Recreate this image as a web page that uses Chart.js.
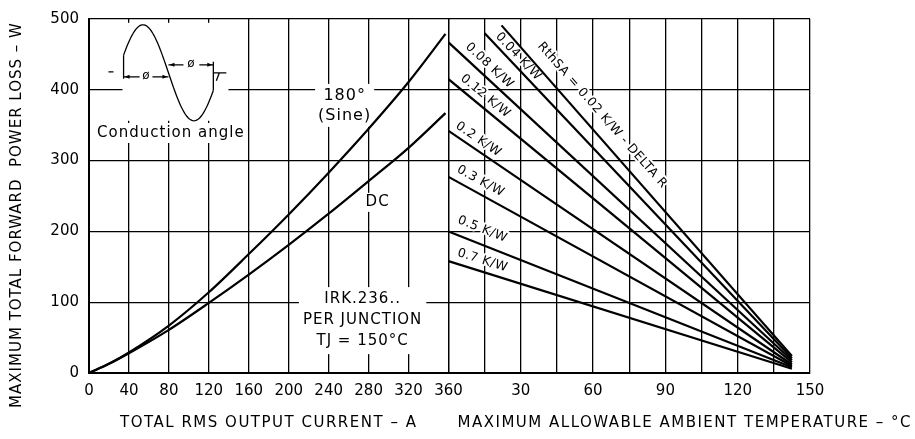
<!DOCTYPE html>
<html lang="en">
<head>
  <meta charset="UTF-8" />
  <title>Maximum forward power loss</title>
  <script src="https://cdn.jsdelivr.net/npm/chart.js"></script>
  <style>
    html, body { margin: 0; padding: 0; background: #fff; }
  </style>
</head>
<body>
<canvas id="lossChart" width="915" height="439"></canvas>
<script>
  // left half: loss against total RMS output current
  const currentA = [0, 20, 40, 80, 120, 160, 200, 240, 280, 320, 357];
  const sineLossW = [0, 13, 29, 67, 114, 168, 224, 283, 345, 411, 479];
  const dcLossW = [0, 13, 28, 61, 99, 139, 181, 225, 271, 318, 367];

  // right half: one straight derating line per heatsink resistance
  const rthNames = ["RthSA = 0.02 K/W - DELTA R", "0.04 K/W", "0.08 K/W", "0.12 K/W",
                    "0.2 K/W", "0.3 K/W", "0.5 K/W", "0.7 K/W"];
  const rthStartTemp = [22, 15, 0, 0, 0, 0, 0, 0];
  const rthStartLoss = [491, 480, 467, 415, 342, 277, 200, 158];
  const rthEndTemp = [142.5, 142.5, 142.5, 142.5, 142.5, 142.5, 142.5, 142.5];
  const rthEndLoss = [24, 21, 18, 15, 12, 10, 8, 6];

  // axis ticks
  const currentTicks = [0, 40, 80, 120, 160, 200, 240, 280, 320, 360];
  const tempTicks = [0, 15, 30, 45, 60, 75, 90, 105, 120, 135, 150];
  const tempTickLabels = ["", "", "30", "", "60", "", "90", "", "120", "", "150"];
  const lossTicks = [0, 100, 200, 300, 400, 500];

  // where the resistance names sit (temperature, loss) - label centres
  const rthLabelSpots = [[63.8, 364], [29, 447], [17, 434], [15.3, 391],
                         [12.4, 330], [13.3, 271], [14.1, 203], [14.1, 159]];

  const FONT = "'DejaVu Sans', sans-serif";

  const datasets = [
    { label: "180° (Sine)", xAxisID: "x", data: currentA.map((a, i) => ({ x: a, y: sineLossW[i] })),
      cubicInterpolationMode: "monotone" },
    { label: "DC", xAxisID: "x", data: currentA.map((a, i) => ({ x: a, y: dcLossW[i] })),
      cubicInterpolationMode: "monotone" },
  ];
  rthNames.forEach((name, i) => {
    datasets.push({
      label: name,
      xAxisID: "xT",
      data: [{ x: rthStartTemp[i], y: rthStartLoss[i] }, { x: rthEndTemp[i], y: rthEndLoss[i] }],
    });
  });

  function boxedText(ctx, lines, cx, cy, lineH, font, pad) {
    ctx.font = font;
    ctx.letterSpacing = "1px";
    const w = Math.max(...lines.map((l) => ctx.measureText(l).width));
    const h = lines.length * lineH;
    ctx.fillStyle = "#fff";
    ctx.fillRect(cx - w / 2 - pad, cy - h / 2 - pad / 2, w + pad * 2, h + pad);
    ctx.fillStyle = "#000";
    ctx.textAlign = "center";
    ctx.textBaseline = "middle";
    lines.forEach((l, i) => ctx.fillText(l, cx, cy - h / 2 + lineH * (i + 0.5)));
    ctx.letterSpacing = "0px";
  }

  function arrowHead(ctx, x, y, dir) {
    ctx.beginPath();
    ctx.moveTo(x, y);
    ctx.lineTo(x - dir * 5, y - 2);
    ctx.lineTo(x - dir * 5, y + 2);
    ctx.closePath();
    ctx.fill();
  }

  // small conduction angle sketch, anchored at the sine start
  function drawSketch(ctx, x0, y0) {
    const period = 102, amp = 48;
    ctx.fillStyle = "#fff";
    ctx.fillRect(x0 + 5, y0 - 50, 106, 98);
    ctx.strokeStyle = "#000";
    ctx.fillStyle = "#000";
    ctx.lineWidth = 1.3;
    ctx.beginPath();
    for (let t = 0.06; t <= 0.9401; t += 0.01) {
      const x = x0 + t * period;
      const y = y0 - amp * Math.sin(2 * Math.PI * t);
      if (t === 0.06) ctx.moveTo(x, y); else ctx.lineTo(x, y);
    }
    ctx.stroke();
    const xs = x0 + 0.06 * period, xm = x0 + 0.5 * period, xe = x0 + 0.94 * period;
    const ys = y0 - amp * Math.sin(2 * Math.PI * 0.06);
    const ye = y0 - amp * Math.sin(2 * Math.PI * 0.94);
    ctx.beginPath();
    ctx.moveTo(xs, ys); ctx.lineTo(xs, y0 + 6);
    ctx.moveTo(xe, ye); ctx.lineTo(xe, y0 - 11);
    ctx.moveTo(x0 - 9, y0 - 1); ctx.lineTo(x0 - 4, y0 - 1);
    // left span
    ctx.moveTo(xs, y0 + 4); ctx.lineTo(xs + 16, y0 + 4);
    ctx.moveTo(xm - 16, y0 + 4); ctx.lineTo(xm, y0 + 4);
    // right span
    ctx.moveTo(xm, y0 - 8); ctx.lineTo(xm + 15, y0 - 8);
    ctx.moveTo(xe - 14, y0 - 8); ctx.lineTo(xe, y0 - 8);
    ctx.moveTo(xe, y0); ctx.lineTo(xe + 13, y0);
    ctx.moveTo(xe + 6, y0); ctx.lineTo(xe + 3, y0 + 8);
    ctx.stroke();
    arrowHead(ctx, xs + 1, y0 + 4, -1);
    arrowHead(ctx, xm - 1, y0 + 4, 1);
    arrowHead(ctx, xm + 1, y0 - 8, -1);
    arrowHead(ctx, xe - 1, y0 - 8, 1);
    ctx.font = "12px " + FONT;
    ctx.textAlign = "center";
    ctx.textBaseline = "middle";
    ctx.fillText("ø", (xs + xm) / 2, y0 + 3);
    ctx.fillText("ø", (xm + xe) / 2, y0 - 9);
  }

  const notesPlugin = {
    id: "notes",
    beforeDatasetsDraw(chart) {
      const ctx = chart.ctx;
      const xa = chart.scales.x, xt = chart.scales.xT, y = chart.scales.y;
      ctx.save();

      drawSketch(ctx, xa.getPixelForValue(28.5), y.getPixelForValue(424));
      boxedText(ctx, ["Conduction angle"], xa.getPixelForValue(82), y.getPixelForValue(339), 18, "15px " + FONT, 2);
      boxedText(ctx, ["180°", "(Sine)"], xa.getPixelForValue(256), y.getPixelForValue(378), 20, "16px " + FONT, 3);
      boxedText(ctx, ["DC"], xa.getPixelForValue(289), y.getPixelForValue(241), 17, "15px " + FONT, 2);
      boxedText(ctx, ["IRK.236..", "PER JUNCTION", "TJ = 150°C"], xa.getPixelForValue(274),
                y.getPixelForValue(74), 21, "15px " + FONT, 4);

      // resistance names, turned to follow their lines
      ctx.font = "12.5px " + FONT;
      ctx.letterSpacing = "0.5px";
      ctx.textAlign = "center";
      ctx.textBaseline = "middle";
      ctx.lineJoin = "round";
      rthNames.forEach((name, i) => {
        const x1 = xt.getPixelForValue(rthStartTemp[i]), y1 = y.getPixelForValue(rthStartLoss[i]);
        const x2 = xt.getPixelForValue(rthEndTemp[i]), y2 = y.getPixelForValue(rthEndLoss[i]);
        const ang = Math.atan2(y2 - y1, x2 - x1);
        ctx.save();
        ctx.translate(xt.getPixelForValue(rthLabelSpots[i][0]), y.getPixelForValue(rthLabelSpots[i][1]));
        ctx.rotate(ang);
        ctx.strokeStyle = "#fff";
        ctx.lineWidth = 4;
        ctx.strokeText(name, 0, 0);
        ctx.fillStyle = "#000";
        ctx.fillText(name, 0, 0);
        ctx.restore();
      });
      ctx.letterSpacing = "0px";
      ctx.restore();
    },
    afterDraw(chart) {
      const ctx = chart.ctx;
      const xa = chart.scales.x, xt = chart.scales.xT;
      ctx.save();
      ctx.fillStyle = "#000";
      ctx.font = "15px " + FONT;
      ctx.letterSpacing = "1.5px";
      ctx.textBaseline = "middle";
      ctx.textAlign = "center";
      ctx.fillText("TOTAL RMS OUTPUT CURRENT – A", (xa.left + xa.right) / 2, 423);
      ctx.textAlign = "left";
      ctx.fillText("MAXIMUM ALLOWABLE AMBIENT TEMPERATURE – °C", xt.left + 9, 423);
      ctx.letterSpacing = "1px";
      ctx.translate(17, 215);
      ctx.rotate(-Math.PI / 2);
      ctx.textAlign = "center";
      ctx.fillText("MAXIMUM TOTAL FORWARD  POWER LOSS – W", 0, 0);
      ctx.restore();
    },
  };

  const grid = { color: "#000", lineWidth: 1.3, drawTicks: false };
  const border = { display: true, color: "#000", width: 2 };
  const tickFont = { family: FONT, size: 15 };

  new Chart(document.getElementById("lossChart"), {
    type: "line",
    data: { datasets: datasets },
    options: {
      responsive: false,
      animation: false,
      layout: { padding: { top: 15, right: 105, bottom: 0, left: 0 } },
      plugins: { legend: { display: false }, tooltip: { enabled: false } },
      elements: {
        point: { radius: 0 },
        line: { borderColor: "#000", borderWidth: 2.2, fill: false },
      },
      scales: {
        x: {
          type: "linear",
          position: "bottom",
          stack: "panels",
          stackWeight: 360,
          min: 0,
          max: 360,
          grid: grid,
          border: border,
          afterBuildTicks: (s) => { s.ticks = currentTicks.map((v) => ({ value: v })); },
          afterFit: (s) => { s.height = 66; },
          ticks: { color: "#000", font: tickFont, padding: 9, autoSkip: false, maxRotation: 0 },
        },
        xT: {
          type: "linear",
          axis: "x",
          position: "bottom",
          stack: "panels",
          stackWeight: 362,
          min: 0,
          max: 150,
          grid: grid,
          border: border,
          afterBuildTicks: (s) => { s.ticks = tempTicks.map((v) => ({ value: v })); },
          afterFit: (s) => { s.height = 66; },
          ticks: {
            color: "#000", font: tickFont, padding: 9, autoSkip: false, maxRotation: 0,
            callback: (v, i) => tempTickLabels[i],
          },
        },
        y: {
          type: "linear",
          min: 0,
          max: 500,
          grid: grid,
          border: border,
          afterBuildTicks: (s) => { s.ticks = lossTicks.map((v) => ({ value: v })); },
          afterFit: (s) => { s.width = 89; },
          ticks: { color: "#000", font: tickFont, padding: 10 },
        },
      },
    },
    plugins: [notesPlugin],
  });
</script>
</body>
</html>
